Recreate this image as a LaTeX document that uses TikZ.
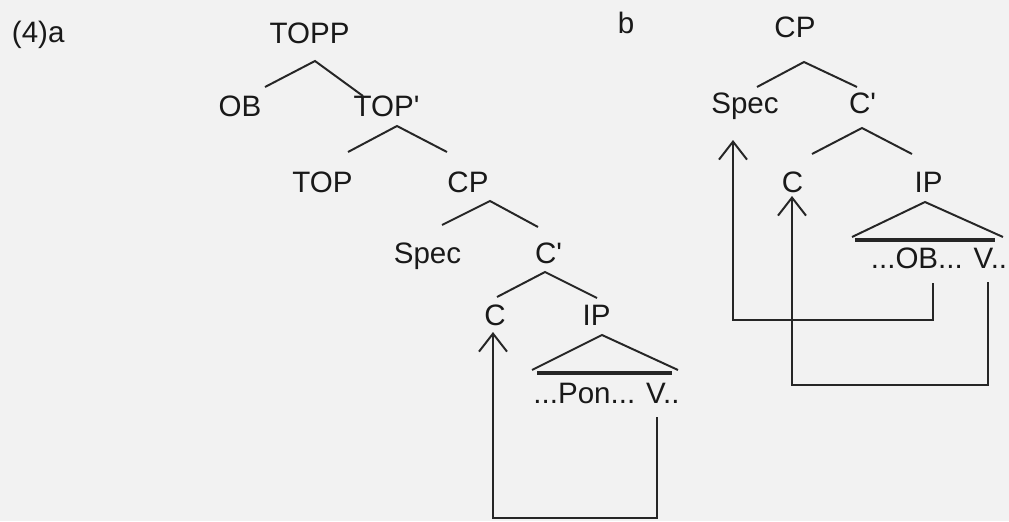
\documentclass[tikz,border=0pt]{standalone}
\usepackage{fontspec}
\setmainfont{Liberation Sans}
\usetikzlibrary{arrows.meta}

\begin{document}
\begin{tikzpicture}[main/.style = {anchor=base, inner sep=0pt, font=\fontsize{21}{25}\selectfont, text=black!90},
    move/.style = {-{Straight Barb[length=4.5mm,width=7mm]}},
    x=0.025cm, y=-0.025cm, line width=1.4pt, draw=black!85]
        \fill[black!5] (0,0) rectangle (1009,521);
        \useasboundingbox (0,0) rectangle (1009,521);
        % (4)a
        \node[main, anchor=base west] (lab-a) at (11,42) {(4)a};
        \node[main] (topp) at (309.5,43) {TOPP};
        \node[main] (ob) at (240,116) {OB};
        \node[main] (topbar) at (386.5,116) {TOP\textquotesingle};
        \node[main] (top) at (322.5,192) {TOP};
        \node[main] (cpa) at (468,192) {CP};
        \node[main] (speca) at (427.5,263) {Spec};
        \node[main] (cbara) at (548.5,263) {C\textquotesingle};
        \node[main] (ca) at (495,325) {C};
        \node[main] (ipa) at (596.5,325) {IP};
        \node[main] (yielda) at (606.5,403) {...Pon... V..};
        \coordinate (topp-d) at (315,61);
        \coordinate (ob-u) at (265,87);
        \coordinate (topbar-u) at (363,96);
        \coordinate (topbar-d) at (397,126);
        \coordinate (top-u) at (348,152);
        \coordinate (cpa-u) at (447,152);
        \coordinate (cpa-d) at (490,201);
        \coordinate (speca-u) at (442,225);
        \coordinate (cbara-u) at (538,227);
        \coordinate (cbara-d) at (545,272);
        \coordinate (ca-u) at (497,297);
        \coordinate (ipa-u) at (597,298);
        \draw (ob-u) -- (topp-d) -- (topbar-u);
        \draw (top-u) -- (topbar-d) -- (cpa-u);
        \draw (speca-u) -- (cpa-d) -- (cbara-u);
        \draw (ca-u) -- (cbara-d) -- (ipa-u);
        \coordinate (ipa-d) at (602,335);
        \coordinate (tria-l) at (532,370);
        \coordinate (tria-r) at (678,370);
        \draw (tria-l) -- (ipa-d) -- (tria-r);
        \coordinate (basea-l) at (537,373);
        \coordinate (basea-r) at (672,373);
        \draw[line width=2.6pt] (basea-l) -- (basea-r);
        \coordinate (va) at (657,417);
        \coordinate (loopa) at (657,518);
        \coordinate (ca-f) at (493,332);
        \draw[move] (va) -- (loopa) -| (ca-f);
        % b
        \node[main, anchor=base west] (lab-b) at (617,33) {b};
        \node[main] (cpb) at (795,37) {CP};
        \node[main] (specb) at (745,113) {Spec};
        \node[main] (cbarb) at (862.5,113) {C\textquotesingle};
        \node[main] (cb) at (792.5,192) {C};
        \node[main] (ipb) at (928.5,192) {IP};
        \node[main] (yieldb) at (939,268) {...OB... V..};
        \coordinate (cpb-d) at (804,62);
        \coordinate (specb-u) at (757,87);
        \coordinate (cbarb-u) at (857,87);
        \coordinate (cbarb-d) at (862,128);
        \coordinate (cb-u) at (812,154);
        \coordinate (ipb-u) at (912,154);
        \draw (specb-u) -- (cpb-d) -- (cbarb-u);
        \draw (cb-u) -- (cbarb-d) -- (ipb-u);
        \coordinate (ipb-d) at (925,202);
        \coordinate (trib-l) at (852,237);
        \coordinate (trib-r) at (1003,237);
        \draw (trib-l) -- (ipb-d) -- (trib-r);
        \coordinate (baseb-l) at (855,240);
        \coordinate (baseb-r) at (995,240);
        \draw[line width=2.6pt] (baseb-l) -- (baseb-r);
        \coordinate (obb) at (933,283);
        \coordinate (loopb) at (933,320);
        \coordinate (specb-f) at (733,140);
        \draw[move] (obb) -- (loopb) -| (specb-f);
        \coordinate (vb) at (988,282);
        \coordinate (loopc) at (988,385);
        \coordinate (cb-f) at (792,196);
        \draw[move] (vb) -- (loopc) -| (cb-f);
      \end{tikzpicture}
\end{document}
